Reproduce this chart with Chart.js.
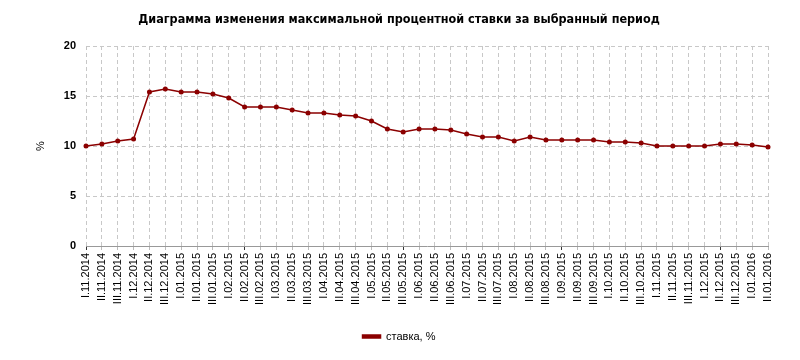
<!DOCTYPE html>
<html>
<head>
<meta charset="utf-8">
<script src="https://cdn.jsdelivr.net/npm/chart.js@4/dist/chart.umd.min.js"></script>
<style>
  html, body { margin: 0; padding: 0; background: #fff; }
  #wrap { width: 800px; height: 360px; }
</style>
</head>
<body>
<div id="wrap"><canvas id="chart" width="800" height="360"></canvas></div>
<script>
const periods = [
  "I.11.2014", "II.11.2014", "III.11.2014", "I.12.2014", "II.12.2014", "III.12.2014",
  "I.01.2015", "II.01.2015", "III.01.2015", "I.02.2015", "II.02.2015", "III.02.2015",
  "I.03.2015", "II.03.2015", "III.03.2015", "I.04.2015", "II.04.2015", "III.04.2015",
  "I.05.2015", "II.05.2015", "III.05.2015", "I.06.2015", "II.06.2015", "III.06.2015",
  "I.07.2015", "II.07.2015", "III.07.2015", "I.08.2015", "II.08.2015", "III.08.2015",
  "I.09.2015", "II.09.2015", "III.09.2015", "I.10.2015", "II.10.2015", "III.10.2015",
  "I.11.2015", "II.11.2015", "III.11.2015", "I.12.2015", "II.12.2015", "III.12.2015",
  "I.01.2016", "II.01.2016"
];

const rates = [
  10.0, 10.2, 10.5, 10.7, 15.4, 15.7,
  15.4, 15.4, 15.2, 14.8, 13.9, 13.9,
  13.9, 13.6, 13.3, 13.3, 13.1, 13.0,
  12.5, 11.7, 11.4, 11.7, 11.7, 11.6,
  11.2, 10.9, 10.9, 10.5, 10.9, 10.6,
  10.6, 10.6, 10.6, 10.4, 10.4, 10.3,
  10.0, 10.0, 10.0, 10.0, 10.2, 10.2,
  10.1, 9.9
];

const seriesName = "ставка, %";
const yTicks = [0, 5, 10, 15, 20];

const lineColor = "#8B0000";

new Chart(document.getElementById("chart"), {
  type: "line",
  data: {
    labels: periods,
    datasets: [{
      label: seriesName,
      data: rates,
      borderColor: lineColor,
      backgroundColor: lineColor,
      borderWidth: 1.5,
      pointRadius: 2.5,
      pointBackgroundColor: lineColor,
      pointBorderWidth: 0,
      tension: 0
    }]
  },
  options: {
    responsive: false,
    animation: false,
    layout: {
      padding: { left: 30, right: 32, top: 0, bottom: 8 }
    },
    scales: {
      x: {
        grid: {
          color: "#c8c8c8",
          tickColor: function (ctx) {
            // darker tick every tenth period
            return ctx.index % 10 === 0 ? "#333" : "#bbb";
          },
          tickLength: 4,
          offset: false
        },
        border: { display: true, color: "#999", dash: [4, 3] },
        ticks: {
          autoSkip: false,
          maxRotation: 90,
          minRotation: 90,
          padding: 3,
          color: "#000",
          font: { family: "Liberation Sans", size: 11 }
        },
        afterFit: function (scale) { scale.height = 75; }
      },
      y: {
        min: 0,
        max: 20,
        afterBuildTicks: function (scale) {
          scale.ticks = yTicks.map(v => ({ value: v }));
        },
        grid: { color: "#c8c8c8", drawTicks: false },
        border: { display: false, dash: [4, 3] },
        ticks: {
          padding: 10,
          color: "#000",
          font: { family: "Liberation Sans", size: 11, weight: "bold" }
        },
        title: {
          display: true,
          text: "%",
          color: "#000",
          padding: { top: 4, bottom: 20 },
          font: { family: "Liberation Sans", size: 11 }
        },
        afterFit: function (scale) { scale.width = 56; }
      }
    },
    plugins: {
      title: {
        display: true,
        text: "Диаграмма изменения максимальной процентной ставки за выбранный период",
        color: "#000",
        font: { family: "DejaVu Sans Condensed", size: 12.5, weight: "bold" },
        padding: { top: 12, bottom: 19 }
      },
      legend: {
        position: "bottom",
        labels: {
          boxWidth: 18,
          boxHeight: 3,
          padding: 10,
          color: "#000",
          font: { family: "Liberation Sans", size: 11 }
        }
      },
      tooltip: { enabled: false }
    }
  }
});
</script>
</body>
</html>
